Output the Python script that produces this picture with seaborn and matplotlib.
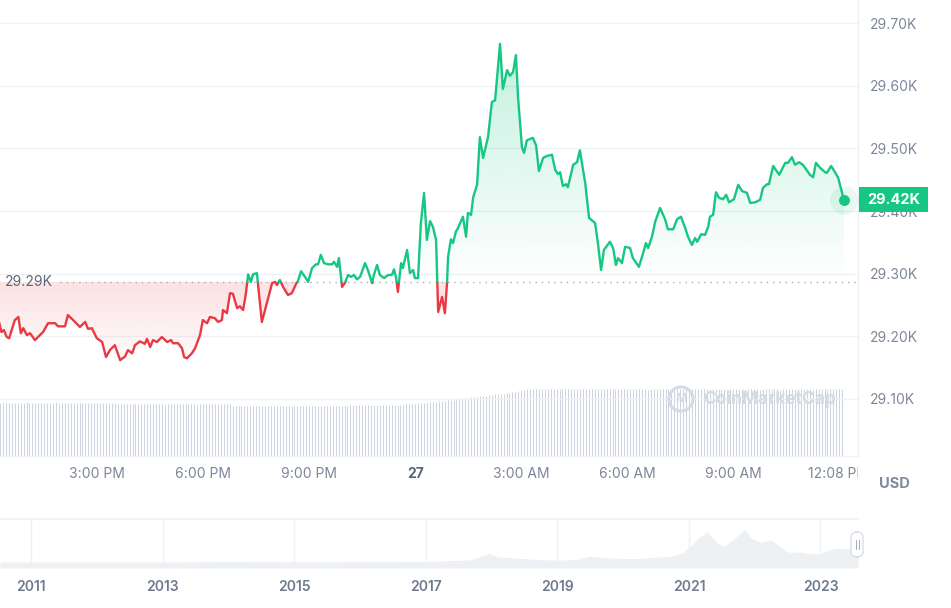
import numpy as np
import pandas as pd
import matplotlib
matplotlib.use('Agg')
import matplotlib.pyplot as plt
import matplotlib.transforms as mtransforms
from matplotlib.path import Path
from matplotlib.patches import PathPatch, Rectangle, FancyBboxPatch
from matplotlib.colors import to_rgb
from matplotlib.ticker import FuncFormatter
import seaborn as sns

sns.set_theme(style='white')
plt.rcParams['font.family'] = ['Inter', 'DejaVu Sans']

GREEN = '#16c784'
RED = '#ea3943'
GRID = '#eff2f5'
TICK = '#7d8699'

# --- price, hours since 00:00 on the 26th ---
hours = [12.14, 12.29, 12.36, 12.44, 12.51, 12.58, 12.67, 12.77, 12.84, 12.91, 13.01, 13.10, 13.24, 13.38, 13.47,
         13.61, 13.81, 13.89, 14.09, 14.17, 14.32, 14.51, 14.66, 14.74, 14.85, 14.99, 15.14, 15.25, 15.36, 15.50,
         15.65, 15.79, 15.87, 15.99, 16.07, 16.21, 16.35, 16.41, 16.50, 16.58, 16.69, 16.83, 16.98, 17.09, 17.15,
         17.29, 17.40, 17.46, 17.54, 17.68, 17.77, 17.91, 17.99, 18.11, 18.19, 18.33, 18.42, 18.53, 18.56, 18.67,
         18.76, 18.84, 18.96, 19.04, 19.13, 19.21, 19.27, 19.35, 19.41, 19.52, 19.55, 19.66, 19.81, 19.95, 20.03,
         20.09, 20.17, 20.26, 20.40, 20.51, 20.63, 20.68, 20.77, 20.88, 20.97, 21.08, 21.19, 21.25, 21.33, 21.42,
         21.53, 21.65, 21.70, 21.79, 21.84, 21.93, 22.01, 22.10, 22.18, 22.27, 22.35, 22.44, 22.58, 22.66, 22.78,
         22.83, 22.92, 23.00, 23.12, 23.23, 23.34, 23.40, 23.46, 23.51, 23.60, 23.65, 23.77, 23.85, 23.94, 23.99,
         24.08, 24.16, 24.25, 24.33, 24.42, 24.50, 24.59, 24.65, 24.76, 24.84, 24.90, 24.93, 25.01, 25.07, 25.15,
         25.21, 25.35, 25.44, 25.49, 25.58, 25.64, 25.75, 25.83, 25.92, 26.06, 26.17, 26.26, 26.40, 26.48, 26.60,
         26.68, 26.77, 26.85, 26.91, 27.02, 27.08, 27.16, 27.33, 27.42, 27.50, 27.62, 27.73, 27.87, 27.96, 28.04,
         28.10, 28.18, 28.27, 28.32, 28.47, 28.58, 28.66, 28.81, 28.92, 29.09, 29.17, 29.26, 29.34, 29.51, 29.60,
         29.68, 29.74, 29.85, 29.94, 30.08, 30.16, 30.33, 30.45, 30.53, 30.59, 30.70, 30.79, 30.93, 31.07, 31.15,
         31.30, 31.41, 31.52, 31.64, 31.72, 31.83, 31.92, 31.98, 32.09, 32.20, 32.29, 32.34, 32.43, 32.51, 32.60,
         32.71, 32.80, 32.88, 33.02, 33.14, 33.25, 33.39, 33.48, 33.62, 33.76, 33.84, 33.96, 34.01, 34.13, 34.30,
         34.47, 34.55, 34.66, 34.75, 34.86, 34.97, 35.17, 35.26, 35.34, 35.46, 35.60, 35.65, 35.77, 35.88, 35.97,
         36.13]
price = [29242, 29207, 29210, 29199, 29197, 29210, 29226, 29231, 29205, 29213, 29202, 29205, 29194, 29202, 29207,
         29221, 29221, 29216, 29216, 29234, 29226, 29215, 29223, 29212, 29213, 29197, 29191, 29167, 29178, 29186,
         29162, 29168, 29178, 29173, 29186, 29192, 29188, 29196, 29183, 29194, 29191, 29199, 29191, 29194, 29189,
         29189, 29181, 29167, 29165, 29173, 29181, 29202, 29226, 29221, 29231, 29229, 29223, 29226, 29242, 29237,
         29269, 29268, 29245, 29248, 29242, 29269, 29299, 29287, 29299, 29301, 29284, 29223, 29255, 29285, 29287,
         29282, 29290, 29279, 29266, 29269, 29284, 29288, 29304, 29295, 29287, 29309, 29315, 29315, 29330, 29317,
         29315, 29315, 29319, 29311, 29325, 29279, 29285, 29298, 29295, 29298, 29291, 29295, 29317, 29306, 29285,
         29298, 29314, 29298, 29293, 29298, 29298, 29307, 29293, 29271, 29317, 29309, 29338, 29301, 29306, 29293,
         29293, 29381, 29429, 29354, 29384, 29375, 29354, 29239, 29263, 29237, 29285, 29327, 29355, 29349, 29367,
         29373, 29391, 29359, 29397, 29394, 29422, 29442, 29518, 29485, 29518, 29574, 29577, 29667, 29595, 29625,
         29616, 29622, 29649, 29582, 29502, 29493, 29513, 29517, 29505, 29464, 29485, 29488, 29490, 29466, 29459,
         29462, 29440, 29443, 29438, 29474, 29478, 29497, 29445, 29389, 29381, 29349, 29306, 29338, 29351, 29341,
         29314, 29325, 29317, 29343, 29341, 29325, 29311, 29333, 29349, 29341, 29359, 29383, 29405, 29387, 29371,
         29371, 29387, 29391, 29373, 29359, 29346, 29357, 29351, 29363, 29362, 29375, 29391, 29394, 29430, 29421,
         29419, 29426, 29414, 29419, 29442, 29432, 29429, 29413, 29414, 29418, 29437, 29443, 29443, 29472, 29458,
         29477, 29477, 29486, 29474, 29478, 29474, 29458, 29454, 29477, 29469, 29462, 29461, 29472, 29462, 29453,
         29418]
BASE = 29287  # opening price of the window (29.29K)

# 24h volume (billion USD), one bar every 5 minutes from 12:10 PM
volume = [
    13.3, 13.3, 13.4, 13.3, 13.3, 13.3, 13.2, 13.3, 13.3, 13.3, 13.4, 13.3, 13.3, 13.3, 13.3, 13.2, 13.3, 13.3, 13.3, 13.3, 13.4, 13.3, 13.3, 13.3,
    13.3, 13.3, 13.2, 13.3, 13.3, 13.3, 13.3, 13.2, 13.3, 13.3, 13.3, 13.3, 13.2, 13.3, 13.3, 13.3, 13.2, 12.9, 12.9, 12.9, 12.9, 12.9, 12.9, 12.9,
    12.9, 12.9, 12.9, 13.0, 12.9, 12.9, 12.9, 12.9, 12.9, 12.8, 12.9, 12.9, 12.9, 12.9, 12.9, 13.0, 12.9, 12.9, 12.9, 12.9, 12.8, 12.9, 12.9, 12.9,
    12.9, 12.9, 12.9, 12.9, 12.9, 12.9, 12.9, 12.9, 12.5, 12.5, 12.5, 12.5, 12.5, 12.6, 12.5, 12.5, 12.5, 12.5, 12.5, 12.5, 12.4, 12.5, 12.5, 12.5,
    12.5, 12.5, 12.5, 12.5, 12.6, 12.5, 12.5, 12.5, 12.5, 12.5, 12.5, 12.4, 12.5, 12.5, 12.5, 12.5, 12.5, 12.6, 12.5, 12.5, 12.5, 12.5, 12.5, 12.5,
    12.7, 12.8, 12.7, 12.8, 12.7, 12.7, 12.8, 12.7, 12.7, 12.8, 12.7, 12.7, 12.8, 12.7, 12.7, 12.8, 12.7, 12.7, 12.8, 13.0, 13.0, 13.1, 13.1, 13.2,
    13.2, 13.3, 13.3, 13.5, 13.5, 13.6, 13.7, 13.7, 13.8, 13.9, 14.0, 14.1, 14.2, 14.3, 14.4, 14.5, 14.6, 14.7, 14.8, 14.8, 14.9, 15.0, 15.1, 15.2,
    15.3, 15.4, 15.4, 15.5, 15.6, 15.8, 15.8, 15.9, 16.1, 16.3, 16.5, 16.6, 16.7, 16.7, 16.7, 16.7, 16.7, 16.8, 16.7, 16.7, 16.7, 16.7, 16.7, 16.7,
    16.7, 16.7, 16.8, 16.7, 16.7, 16.7, 16.7, 16.8, 16.7, 16.7, 16.7, 16.7, 16.7, 16.8, 16.7, 16.7, 16.7, 16.7, 16.7, 16.7, 16.8, 16.7, 16.7, 16.7,
    16.7, 16.8, 16.7, 16.7, 16.7, 16.6, 16.7, 16.7, 16.7, 16.8, 16.7, 16.7, 16.7, 16.7, 16.6, 16.7, 16.7, 16.7, 16.8, 16.7, 16.7, 16.7, 16.7, 16.7,
    16.7, 16.7, 16.7, 16.8, 16.7, 16.7, 16.7, 16.7, 16.6, 16.7, 16.7, 16.7, 16.7, 16.8, 16.7, 16.7, 16.7, 16.7, 16.7, 16.6, 16.7, 16.7, 16.7, 16.7,
    16.7, 16.7, 16.6, 16.7, 16.7, 16.7, 16.8, 16.7, 16.7, 16.7, 16.7, 16.7, 16.7, 16.6, 16.7, 16.7, 16.7, 16.8, 16.7, 16.7, 16.7, 16.7, 16.7, 16.7,
]
vol_hours = 12 + 10 / 60 + np.arange(len(volume)) * 5 / 60

xtick_pos = [15, 18, 21, 24, 27, 30, 33]
xtick_lab = ['3:00 PM', '6:00 PM', '9:00 PM', '27', '3:00 AM', '6:00 AM', '9:00 AM']
ytick_pos = [29100, 29200, 29300, 29400, 29500, 29600, 29700]

# --- all-time navigator (BTC price, USD) ---
nav_years = [2010.53, 2011.4, 2011.9, 2012.5, 2013.3, 2013.9, 2014.5, 2015.0, 2015.9, 2016.5, 2016.9, 2017.4,
             2017.7, 2017.96, 2018.1, 2018.3, 2018.5, 2018.9, 2019.0, 2019.3, 2019.5, 2019.8, 2020.2, 2020.5,
             2020.7, 2020.9, 2021.05, 2021.15, 2021.28, 2021.45, 2021.55, 2021.7, 2021.85, 2021.95, 2022.1,
             2022.25, 2022.4, 2022.5, 2022.7, 2022.85, 2023.0, 2023.1, 2023.25, 2023.4, 2023.57]
nav_price = [0.1, 15, 3, 7, 100, 900, 600, 250, 430, 650, 900, 2500, 4500, 17500, 10000, 8500, 6500, 4000,
             3600, 5000, 11500, 8000, 6500, 9500, 11000, 18000, 34000, 48000, 61000, 36000, 32000, 47000,
             65000, 48000, 40000, 45000, 30000, 20000, 20000, 16500, 16500, 23000, 28000, 27000, 29400]
nav_ticks = [2011, 2013, 2015, 2017, 2019, 2021, 2023]

# ---------------------------------------------------------------
W, H = 951, 608
fig = plt.figure(figsize=(W / 100, H / 100), dpi=100)
fig.patch.set_facecolor('white')
ax = fig.add_axes([0, (H - 456) / H, 858 / W, 456 / H])
ax.set_facecolor('white')

XMIN, XMAX = 12.25, 36.53
YMIN, YMAX = 29009, 29737

# insert baseline crossings so the colour switches exactly on the line
t = np.array(hours, dtype=float)
p = np.array(price, dtype=float)
tt, pp = [t[0]], [p[0]]
for i in range(1, len(t)):
    a, b = p[i - 1] - BASE, p[i] - BASE
    if a * b < 0:
        f = a / (a - b)
        tt.append(t[i - 1] + f * (t[i] - t[i - 1]))
        pp.append(BASE)
    tt.append(t[i])
    pp.append(p[i])
tt, pp = np.array(tt), np.array(pp)

rows, seg, cur = [], 0, None
for k in range(len(tt) - 1):
    side = 'up' if (pp[k] + pp[k + 1]) / 2 >= BASE else 'down'
    if side != cur:
        seg += 1
        cur = side
        rows.append((seg, side, tt[k], pp[k]))
    rows.append((seg, side, tt[k + 1], pp[k + 1]))
df = pd.DataFrame(rows, columns=['seg', 'side', 'hour', 'price'])


def gradient_area(x, y, above, color, a_far, a_base, y_far):
    where = (y >= BASE) if above else (y <= BASE)
    coll = ax.fill_between(x, y, BASE, where=where, interpolate=True, facecolor='none', edgecolor='none')
    clip = PathPatch(Path.make_compound_path(*coll.get_paths()), transform=ax.transData,
                     facecolor='none', edgecolor='none')
    ax.add_patch(clip)
    img = np.zeros((256, 1, 4))
    img[..., :3] = to_rgb(color)
    if above:
        img[:, 0, 3] = np.linspace(a_base, a_far, 256)
        lo, hi = BASE, y_far
    else:
        img[:, 0, 3] = np.linspace(a_far, a_base, 256)
        lo, hi = y_far, BASE
    im = ax.imshow(img, extent=[x.min(), x.max(), lo, hi], origin='lower', aspect='auto',
                   interpolation='bilinear', zorder=1)
    im.set_clip_path(clip)


# volume bars along the bottom
vol_top = 114.0
ax.vlines(vol_hours, 0, np.array(volume) / vol_top, transform=ax.get_xaxis_transform(),
          color='#cdd3df', lw=0.75, zorder=0.5)

gradient_area(tt, pp, True, GREEN, 0.26, 0.0, pp.max())
gradient_area(tt, pp, False, RED, 0.02, 0.15, pp.min())

sns.lineplot(data=df, x='hour', y='price', hue='side', units='seg', estimator=None, sort=False,
             palette={'up': GREEN, 'down': RED}, linewidth=1.7, legend=False, ax=ax, zorder=3)

# baseline
ax.axhline(BASE, xmin=60 / 858, xmax=1, color='#a6adbd', ls=(0, (1, 3.5)), lw=1.0, zorder=2)
blend = mtransforms.blended_transform_factory(ax.transAxes, ax.transData)
ax.text(5 / 858, BASE, f'{BASE / 1000:.2f}K', transform=blend, ha='left', va='center',
        fontsize=10, color='#58667e')

# last price marker
ax.scatter([t[-1]], [p[-1]], s=420, color=GREEN, alpha=0.1, lw=0, zorder=4)
ax.scatter([t[-1]], [p[-1]], s=62, color=GREEN, lw=0, zorder=5)

ax.set_xlim(XMIN, XMAX)
ax.set_ylim(YMIN, YMAX)
ax.set_xlabel('')
ax.set_ylabel('')
ax.yaxis.tick_right()
ax.set_yticks(ytick_pos)
ax.yaxis.set_major_formatter(FuncFormatter(lambda v, _: f'{v / 1000:.2f}K'))
ax.set_xticks(xtick_pos)
ax.set_xticklabels(xtick_lab)
ax.tick_params(axis='y', length=0, pad=8.6, labelsize=10, labelcolor=TICK)
ax.tick_params(axis='x', length=0, pad=8, labelsize=10, labelcolor=TICK)
for lbl in ax.get_xticklabels():
    if lbl.get_text() == '27':
        lbl.set_fontweight('bold')
        lbl.set_color('#58667e')
ax.grid(axis='y', color=GRID, lw=1)
ax.grid(axis='x', visible=False)
for s in ['top', 'left']:
    ax.spines[s].set_visible(False)
for s in ['right', 'bottom']:
    ax.spines[s].set_color(GRID)
    ax.spines[s].set_linewidth(1)

# last tick label, cut by the plot edge
off = mtransforms.offset_copy(ax.get_xaxis_transform(), fig=fig, x=-4, y=-8, units='points')
end_lbl = ax.text(t[-1], 0, '12:08 PM', transform=off, ha='center', va='top', fontsize=10, color=TICK)
end_lbl.set_clip_on(True)
end_lbl.set_clip_box(mtransforms.TransformedBbox(mtransforms.Bbox([[0, -1], [1, 1]]), ax.transAxes))

# current price badge
half = 12.5 * (YMAX - YMIN) / 456
ax.add_patch(Rectangle((1.0012, p[-1] - half), 0.0804, 2 * half, transform=blend, facecolor=GREEN,
                       edgecolor='none', clip_on=False, zorder=10))
ax.text(1.0414, p[-1], f'{p[-1] / 1000:.2f}K', transform=blend, ha='center', va='center', fontsize=10.5,
        fontweight='bold', color='white', clip_on=False, zorder=11)

# watermark
ax.scatter([681 / 858], [57 / 456], s=300, transform=ax.transAxes, facecolor='none',
           edgecolor='#d5dbe4', lw=2.2, zorder=6)
ax.text(681 / 858, 57 / 456, 'M', transform=ax.transAxes, ha='center', va='center', fontsize=9,
        fontweight='bold', color='#d5dbe4', zorder=6)
ax.text(703 / 858, 57 / 456, 'CoinMarketCap', transform=ax.transAxes, ha='left', va='center',
        fontsize=12.5, fontweight='bold', color='#d5dbe4', zorder=6)

fig.text(894 / W, 1 - 484 / H, 'USD', ha='center', va='center', fontsize=10.5, fontweight='bold', color='#808a9d')

# navigator
nav = fig.add_axes([0, (H - 568) / H, 858 / W, 49 / H])
nav.set_facecolor('white')
nav.fill_between(nav_years, nav_price, -10200, color='#eef1f4', lw=0)
sns.lineplot(x=nav_years, y=nav_price, color='#e8ecf1', lw=0.6, ax=nav)
nav.set_xlim(2010.53, 2023.57)
nav.set_ylim(-10200, 89200)
nav.set_yticks([])
nav.set_xticks(nav_ticks)
nav.set_xticklabels([str(y) for y in nav_ticks])
nav.tick_params(axis='x', length=0, pad=8.5, labelsize=10, labelcolor='#6f7a8e')
for lbl in nav.get_xticklabels():
    lbl.set_fontweight('semibold')
nav.grid(axis='x', color=GRID, lw=1)
nav.grid(axis='y', visible=False)
for s in ['left', 'right', 'bottom']:
    nav.spines[s].set_visible(False)
nav.spines['top'].set_color(GRID)

# navigator handle
fig.patches.append(FancyBboxPatch((851 / W, (H - 557) / H), 12 / W, 25 / H,
                                  boxstyle='round,pad=0,rounding_size=0.008', transform=fig.transFigure,
                                  facecolor='white', edgecolor='#d9dee7', lw=1, figure=fig))
for dx in (-1.5, 1.5):
    fig.lines.append(plt.Line2D([(857 + dx) / W] * 2, [(H - 549) / H, (H - 540) / H],
                                transform=fig.transFigure, color='#a6b0c3', lw=0.8, figure=fig))

fig.savefig('out.png', dpi=100, facecolor='white')
